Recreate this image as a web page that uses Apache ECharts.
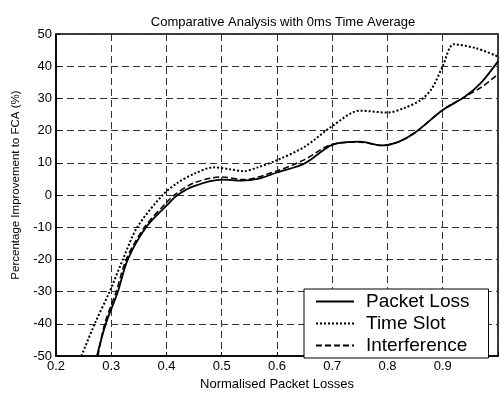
<!DOCTYPE html>
<html lang="en">
<head>
    <meta charset="utf-8">
    <title>Comparative Analysis with 0ms Time Average</title>
    <script src="https://cdn.jsdelivr.net/npm/echarts@6/dist/echarts.min.js"></script>
    <style>
        html, body { margin: 0; padding: 0; background: #fff; }
        #main { width: 501px; height: 396px; }
    </style>
</head>
<body>
<div id="main"></div>
<script type="text/javascript">
    // values
    var packetLossX = [0.274, 0.29, 0.312, 0.33, 0.363, 0.4, 0.42, 0.45, 0.5, 0.535, 0.565, 0.6, 0.65, 0.7, 0.75, 0.79, 0.82, 0.85, 0.9, 0.94, 0.97, 1.0];
    var packetLossY = [-50, -40, -30, -20, -10, -3.3, 0, 2.8, 4.8, 4.5, 5, 7, 9.8, 15.6, 16.6, 15.4, 16.5, 19.4, 26.4, 30.5, 35, 41.5];

    var timeSlotX = [0.246, 0.27, 0.297, 0.321, 0.347, 0.393, 0.42, 0.45, 0.485, 0.515, 0.54, 0.565, 0.6, 0.65, 0.7, 0.75, 0.8, 0.83, 0.86, 0.88, 0.9, 0.92, 0.96, 1.0];
    var timeSlotY = [-50, -40, -30, -20, -10, 0, 3.8, 6.6, 8.6, 8.0, 7.4, 8.6, 10.8, 15, 21.4, 26.2, 25.6, 27, 29.5, 33, 40, 46.8, 45.6, 43];

    var interferenceX = [0.276, 0.288, 0.309, 0.327, 0.36, 0.4, 0.414, 0.45, 0.5, 0.54, 0.6, 0.65, 0.7, 0.75, 0.79, 0.82, 0.85, 0.9, 0.94, 0.97, 1.0];
    var interferenceY = [-50, -40, -30, -20, -10, -2.3, 0, 3.8, 5.6, 4.8, 7.5, 11, 15.8, 16.4, 15.4, 16.5, 19.4, 26.4, 30.5, 33.5, 37.5];

    var seriesNames = ['Packet Loss', 'Time Slot', 'Interference'];

    function pairs(xs, ys) {
        return xs.map(function (x, i) { return [x, ys[i]]; });
    }

    var chart = echarts.init(document.getElementById('main'), null, {renderer: 'canvas'});
    var font = 'Arial, "Liberation Sans", sans-serif';
    var gridLine = {show: true, lineStyle: {color: '#333', width: 1, type: [7, 4]}};

    var option = {
        backgroundColor: '#fff',
        animation: false,
        title: {
            text: 'Comparative Analysis with 0ms Time Average',
            left: 278,
            top: 11,
            textAlign: 'center',
            textStyle: {fontFamily: font, fontSize: 13, fontWeight: 'normal', color: '#000'}
        },
        grid: {
            left: 56, right: 0, top: 34, bottom: 31,
            show: true, borderColor: '#000', borderWidth: 1.5
        },
        legend: {
            orient: 'vertical',
            left: 304,
            top: 289,
            data: seriesNames,
            itemWidth: 38,
            itemHeight: 14,
            itemGap: 3,
            padding: [3, 19, 3, 11],
            borderColor: '#000',
            borderWidth: 1,
            backgroundColor: '#fff',
            borderRadius: 0,
            itemStyle: {opacity: 0, borderWidth: 0},
            textStyle: {fontFamily: font, fontSize: 19, lineHeight: 19, color: '#000', padding: [0, 0, 0, 7]}
        },
        xAxis: {
            type: 'value',
            min: 0.2,
            max: 1.0,
            interval: 0.1,
            name: 'Normalised Packet Losses',
            nameLocation: 'middle',
            nameGap: 20,
            nameTextStyle: {fontFamily: font, fontSize: 13, color: '#000'},
            axisLine: {onZero: false, lineStyle: {color: '#000', width: 1.5}},
            axisTick: {inside: true, length: 4, lineStyle: {color: '#000'}},
            axisLabel: {
                margin: 4, fontFamily: font, fontSize: 13, color: '#000',
                formatter: function (v) { return v > 0.99 ? '' : v.toFixed(1); }
            },
            splitLine: gridLine
        },
        yAxis: {
            type: 'value',
            min: -50,
            max: 50,
            interval: 10,
            name: 'Percentage Improvement to FCA (%)',
            nameLocation: 'middle',
            nameGap: 34,
            nameTextStyle: {fontFamily: font, fontSize: 11.5, color: '#000', padding: [0, 0, 0, 20]},
            axisLine: {onZero: false, lineStyle: {color: '#000', width: 1.5}},
            axisTick: {inside: true, length: 4, lineStyle: {color: '#000'}},
            axisLabel: {margin: 4, fontFamily: font, fontSize: 13, color: '#000'},
            splitLine: gridLine
        },
        series: [
            {
                name: seriesNames[0],
                type: 'line',
                data: pairs(packetLossX, packetLossY),
                smooth: 0.3,
                symbol: 'none',
                lineStyle: {color: '#000', width: 1.8, type: 'solid'},
                itemStyle: {color: '#000'}
            },
            {
                name: seriesNames[1],
                type: 'line',
                data: pairs(timeSlotX, timeSlotY),
                smooth: 0.3,
                symbol: 'none',
                lineStyle: {color: '#000', width: 2, type: [2, 2]},
                itemStyle: {color: '#000'}
            },
            {
                name: seriesNames[2],
                type: 'line',
                data: pairs(interferenceX, interferenceY),
                smooth: 0.3,
                symbol: 'none',
                lineStyle: {color: '#000', width: 1.5, type: [6, 3]},
                itemStyle: {color: '#000'}
            }
        ]
    };

    chart.setOption(option);
</script>
</body>
</html>
